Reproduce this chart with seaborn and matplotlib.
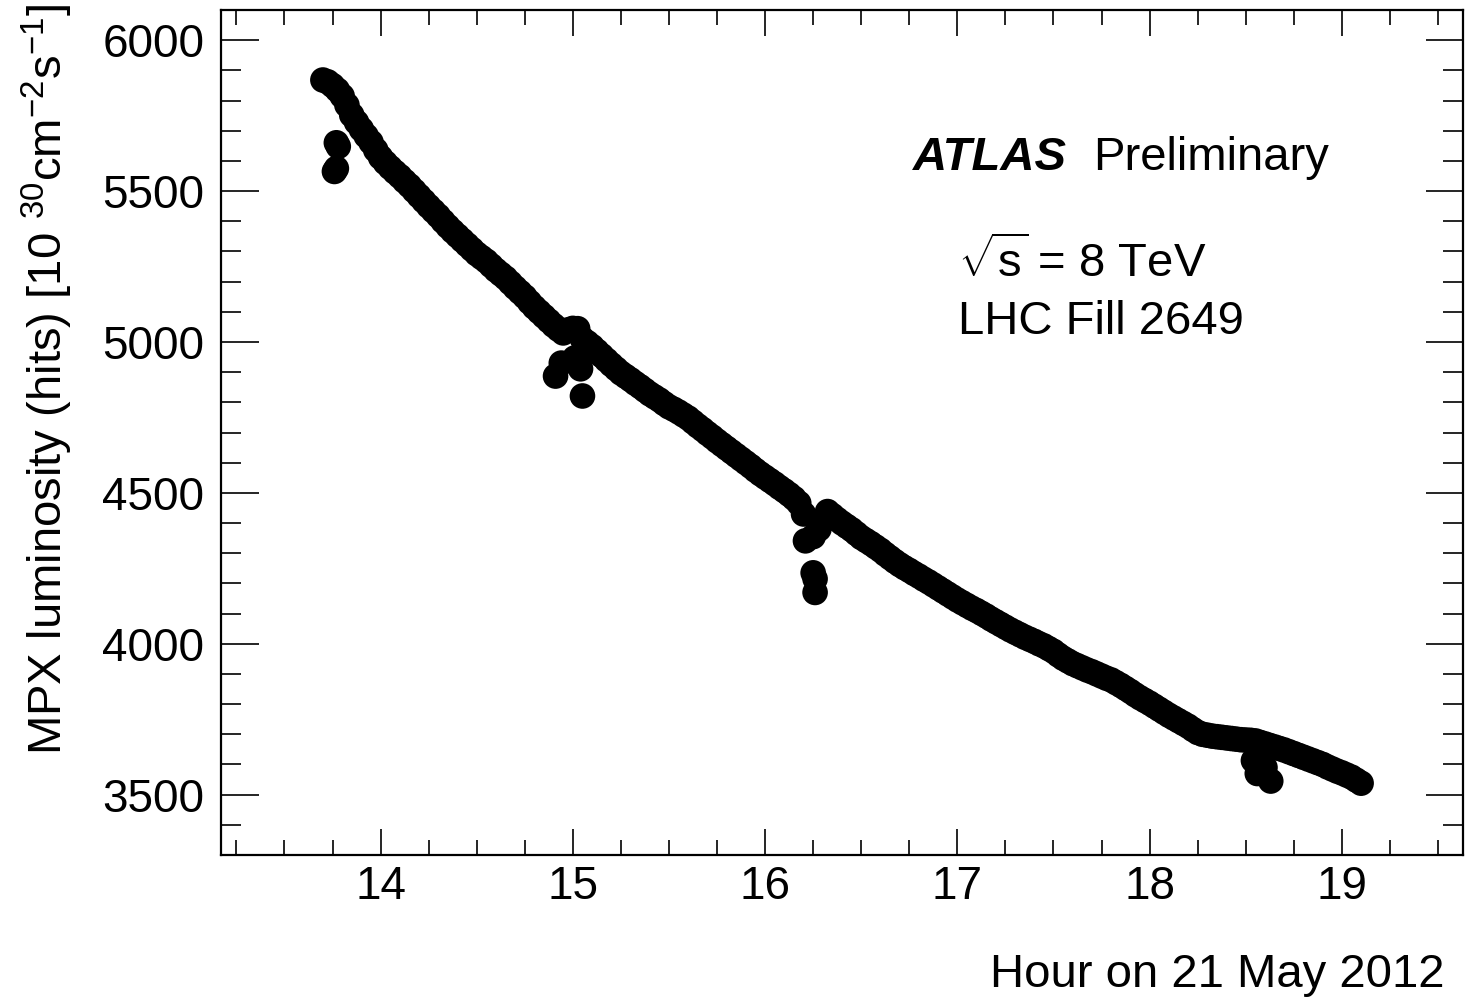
import numpy as np
import pandas as pd
import matplotlib
matplotlib.use("Agg")
import matplotlib.pyplot as plt
from matplotlib.ticker import MultipleLocator
import seaborn as sns

# ---- data ----
hours = [13.700, 13.725, 13.750, 13.775, 13.800, 13.825, 13.850, 13.875, 13.900, 13.925,
         13.950, 13.975, 14.000, 14.025, 14.050, 14.075, 14.100, 14.125, 14.150, 14.175,
         14.200, 14.225, 14.250, 14.275, 14.300, 14.325, 14.350, 14.375, 14.400, 14.425,
         14.450, 14.475, 14.500, 14.525, 14.550, 14.575, 14.600, 14.625, 14.650, 14.675,
         14.700, 14.725, 14.750, 14.775, 14.800, 14.825, 14.850, 14.875, 14.900, 14.925,
         14.950, 14.975, 15.000, 15.025, 15.050, 15.075, 15.100, 15.125, 15.150, 15.175,
         15.200, 15.225, 15.250, 15.275, 15.300, 15.325, 15.350, 15.375, 15.400, 15.425,
         15.450, 15.475, 15.500, 15.525, 15.550, 15.575, 15.600, 15.625, 15.650, 15.675,
         15.700, 15.725, 15.750, 15.775, 15.800, 15.825, 15.850, 15.875, 15.900, 15.925,
         15.950, 15.975, 16.000, 16.025, 16.050, 16.075, 16.100, 16.125, 16.150, 16.175,
         16.200, 16.325, 16.350, 16.375, 16.400, 16.425, 16.450, 16.475, 16.500, 16.525,
         16.550, 16.575, 16.600, 16.625, 16.650, 16.675, 16.700, 16.725, 16.750, 16.775,
         16.800, 16.825, 16.850, 16.875, 16.900, 16.925, 16.950, 16.975, 17.000, 17.025,
         17.050, 17.075, 17.100, 17.125, 17.150, 17.175, 17.200, 17.225, 17.250, 17.275,
         17.300, 17.325, 17.350, 17.375, 17.400, 17.425, 17.450, 17.475, 17.500, 17.525,
         17.550, 17.575, 17.600, 17.625, 17.650, 17.675, 17.700, 17.725, 17.750, 17.775,
         17.800, 17.825, 17.850, 17.875, 17.900, 17.925, 17.950, 17.975, 18.000, 18.025,
         18.050, 18.075, 18.100, 18.125, 18.150, 18.175, 18.200, 18.225, 18.250, 18.275,
         18.300, 18.325, 18.350, 18.375, 18.400, 18.425, 18.450, 18.475, 18.500, 18.525,
         18.550, 18.575, 18.600, 18.625, 18.650, 18.675, 18.700, 18.725, 18.750, 18.775,
         18.800, 18.825, 18.850, 18.875, 18.900, 18.925, 18.950, 18.975, 19.000, 19.025,
         19.050, 19.075, 19.100]
lumi = [5868, 5862, 5850, 5835, 5815, 5785, 5752, 5728, 5705, 5683,
        5662, 5636, 5612, 5594, 5578, 5563, 5549, 5533, 5518, 5501,
        5484, 5467, 5450, 5434, 5418, 5400, 5383, 5367, 5352, 5337,
        5322, 5307, 5292, 5280, 5268, 5253, 5238, 5225, 5212, 5196,
        5180, 5165, 5150, 5132, 5115, 5100, 5085, 5070, 5055, 5042,
        5030, 5040, 5045, 5044, 5010, 4998, 4985, 4970, 4955, 4940,
        4925, 4911, 4897, 4886, 4875, 4863, 4852, 4840, 4828, 4818,
        4808, 4796, 4785, 4777, 4768, 4758, 4748, 4735, 4722, 4710,
        4697, 4685, 4672, 4660, 4648, 4636, 4624, 4612, 4600, 4588,
        4575, 4563, 4552, 4541, 4530, 4518, 4507, 4495, 4482, 4466,
        4430, 4438, 4425, 4412, 4400, 4389, 4378, 4365, 4352, 4342,
        4332, 4321, 4310, 4297, 4285, 4273, 4262, 4252, 4243, 4233,
        4224, 4214, 4205, 4195, 4185, 4175, 4165, 4155, 4145, 4136,
        4127, 4118, 4110, 4101, 4092, 4082, 4073, 4064, 4055, 4046,
        4038, 4030, 4022, 4015, 4008, 4000, 3993, 3984, 3975, 3963,
        3952, 3943, 3934, 3927, 3920, 3913, 3907, 3900, 3893, 3886,
        3880, 3871, 3862, 3852, 3842, 3831, 3821, 3812, 3803, 3793,
        3783, 3773, 3763, 3754, 3745, 3736, 3727, 3716, 3706, 3700,
        3697, 3694, 3692, 3690, 3688, 3686, 3684, 3682, 3681, 3680,
        3678, 3673, 3668, 3663, 3658, 3653, 3648, 3642, 3636, 3630,
        3624, 3618, 3612, 3606, 3600, 3592, 3585, 3578, 3572, 3565,
        3558, 3548, 3538]

# isolated low readings (dips)
dip_hours = [13.77, 13.78, 13.77, 13.76,
             14.91, 14.94, 15.01, 15.04, 15.05,
             16.21, 16.25, 16.28, 16.30, 16.25, 16.26, 16.26,
             18.54, 18.56, 18.60, 18.63]
dip_lumi = [5660, 5648, 5575, 5565,
            4887, 4930, 4947, 4911, 4821,
            4341, 4355, 4380, 4410, 4235, 4215, 4170,
            3613, 3570, 3590, 3545]

x_ticks = [14, 15, 16, 17, 18, 19]
y_ticks = [3500, 4000, 4500, 5000, 5500, 6000]

df = pd.DataFrame({"hour": hours + dip_hours, "lumi": lumi + dip_lumi})

sns.set_style("white")
plt.rcParams["font.family"] = ["Liberation Sans", "DejaVu Sans"]
plt.rcParams["mathtext.fontset"] = "custom"
plt.rcParams["mathtext.rm"] = "Liberation Sans"
plt.rcParams["mathtext.it"] = "Liberation Sans:italic"
plt.rcParams["mathtext.bf"] = "Liberation Sans:bold"
plt.rcParams["text.color"] = "black"
plt.rcParams["xtick.color"] = "black"
plt.rcParams["ytick.color"] = "black"

W, H = 1466, 998
fig = plt.figure(figsize=(W / 100, H / 100), dpi=100)
ax = fig.add_axes([221 / W, 1 - 855 / H, (1463 - 221) / W, (855 - 10) / H])

sns.scatterplot(data=df, x="hour", y="lumi", ax=ax, color="black",
                s=340, linewidth=0, edgecolor="none", legend=False)

ax.set_xlim(13.17, 19.63)
ax.set_ylim(3300, 6100)
ax.set_xticks(x_ticks)
ax.set_yticks(y_ticks)
ax.xaxis.set_minor_locator(MultipleLocator(0.25))
ax.yaxis.set_minor_locator(MultipleLocator(100))
ax.set_xlabel("")
ax.set_ylabel("")

for sp in ax.spines.values():
    sp.set_visible(True)
    sp.set_linewidth(1.6)
    sp.set_color("black")

ax.tick_params(which="both", direction="in", top=True, right=True,
               bottom=True, left=True, colors="black", width=1.2,
               labelsize=33, labelcolor="black")
ax.tick_params(axis="x", which="major", length=19, pad=7)
ax.tick_params(axis="x", which="minor", length=10.5)
ax.tick_params(axis="y", which="major", length=27, pad=12)
ax.tick_params(axis="y", which="minor", length=14.5)

# axis titles (ROOT style: aligned to the axis ends)
fig.text(1445 / W, 1 - 987 / H, "Hour on 21 May 2012", ha="right",
         va="baseline", fontsize=34, color="black")
fig.text(47 / W, 1 - 4 / H,
         r"MPX luminosity (hits) [10 $^{30}$cm$^{-2}$s$^{-1}$]",
         rotation=90, ha="center", va="top", fontsize=34, color="black")

# labels inside the plot
fig.text(913 / W, 1 - 170 / H, "ATLAS", fontsize=34, fontweight="bold",
         style="italic", va="baseline", ha="left", color="black")
fig.text(1093 / W, 1 - 170 / H, "Preliminary", fontsize=34,
         va="baseline", ha="left", color="black")
fig.text(958 / W, 1 - 278 / H, r"$\sqrt{\mathrm{s}}\;$= 8 TeV", fontsize=34,
         va="baseline", ha="left", color="black")
fig.text(958 / W, 1 - 334 / H, "LHC Fill 2649", fontsize=34,
         va="baseline", ha="left", color="black")

fig.savefig("out.png", dpi=100, facecolor="white")
